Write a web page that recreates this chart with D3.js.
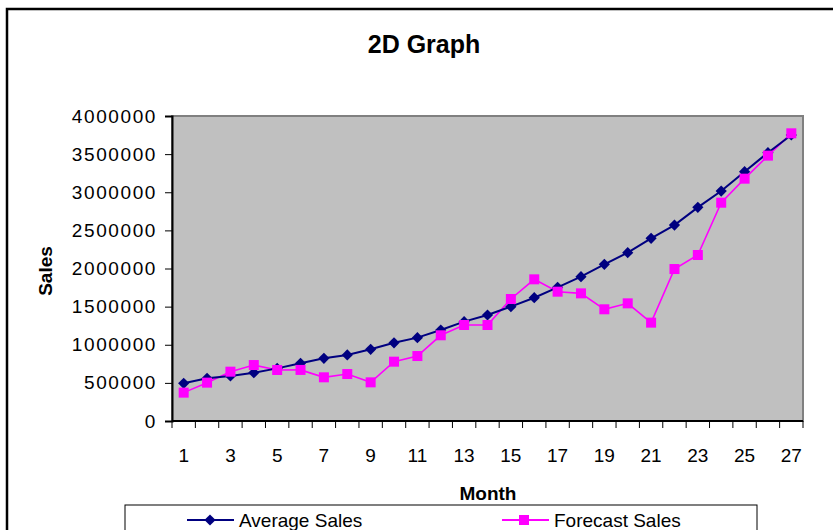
<!DOCTYPE html>
<head>
  <meta charset="utf-8">
  <title>2D Graph</title>
  <script src="https://d3js.org/d3.v7.min.js"></script>
  <style>
    body { margin: 0; background: #fff; }
    text { font-family: Arial, "Liberation Sans", sans-serif; fill: #000; }
  </style>
</head>
<body>
  <div id="root"></div>
  <script>
    // data
    var months = d3.range(1, 28);
    var averageSales = [494000, 560000, 590000, 633000, 690000, 757000, 822000, 866000, 940000,
      1025000, 1093000, 1193000, 1303000, 1390000, 1500000, 1617000, 1753000, 1893000, 2055000,
      2208000, 2396000, 2570000, 2802000, 3016000, 3270000, 3519000, 3751000];
    var forecastSales = [372000, 503000, 647000, 734000, 669000, 670000, 573000, 616000, 507000,
      778000, 852000, 1124000, 1259000, 1259000, 1600000, 1858000, 1696000, 1674000, 1465000,
      1543000, 1290000, 1993000, 2177000, 2863000, 3178000, 3480000, 3773000];
    var yTicks = [0, 500000, 1000000, 1500000, 2000000, 2500000, 3000000, 3500000, 4000000];
    var xLabels = months.filter(function(m) { return m % 2 == 1; });

    var W = 833, H = 530;
    var plot = {left: 172, right: 803, top: 116, bottom: 421};

    var svg = d3.select("#root").append("svg")
      .attr("width", W).attr("height", H);

    // outer chart frame (runs off the picture)
    svg.append("rect")
      .attr("x", 7).attr("y", 9).attr("width", 900).attr("height", 600)
      .attr("fill", "none").attr("stroke", "#000").attr("stroke-width", 2.5);

    // title
    svg.append("text")
      .attr("x", 424).attr("y", 53)
      .attr("text-anchor", "middle")
      .style("font-size", "25px").style("font-weight", "bold")
      .text("2D Graph");

    var x = d3.scaleBand().domain(months).range([plot.left, plot.right]).padding(0);
    var y = d3.scaleLinear().domain([0, 4000000]).range([plot.bottom, plot.top]);
    var cx = function(m) { return x(m) + x.bandwidth() / 2; };

    // plot area
    svg.append("rect")
      .attr("x", plot.left).attr("y", plot.top)
      .attr("width", plot.right - plot.left).attr("height", plot.bottom - plot.top)
      .attr("fill", "#c0c0c0").attr("stroke", "#808080").attr("stroke-width", 2);

    // y axis
    var yAxis = svg.append("g")
      .attr("transform", "translate(" + plot.left + ",0)")
      .call(d3.axisLeft(y).tickValues(yTicks).tickSize(7).tickPadding(8).tickFormat(d3.format("d")));
    yAxis.select(".domain").attr("stroke", "#000").attr("stroke-width", 2);
    yAxis.selectAll("text").style("font-size", "19px").style("font-family", "Arial, 'Liberation Sans', sans-serif")
      .style("letter-spacing", "1.6px")
      .attr("fill", "#000");

    // x axis: ticks between categories
    var xAxis = svg.append("g").attr("transform", "translate(0," + plot.bottom + ")");
    xAxis.append("line")
      .attr("x1", plot.left).attr("x2", plot.right)
      .attr("stroke", "#000").attr("stroke-width", 2);
    xAxis.selectAll("line.tick")
      .data(months.concat([28]))
      .enter().append("line")
      .attr("class", "tick")
      .attr("x1", function(m) { return m > 27 ? plot.right : x(m); })
      .attr("x2", function(m) { return m > 27 ? plot.right : x(m); })
      .attr("y1", 0).attr("y2", 7)
      .attr("stroke", "#000");
    xAxis.selectAll("text")
      .data(xLabels)
      .enter().append("text")
      .attr("x", cx).attr("y", 41)
      .attr("text-anchor", "middle")
      .style("font-size", "19px")
      .text(function(m) { return m; });

    // axis titles
    svg.append("text")
      .attr("x", 488).attr("y", 500)
      .attr("text-anchor", "middle")
      .style("font-size", "19px").style("font-weight", "bold")
      .text("Month");
    svg.append("text")
      .attr("transform", "translate(52,271) rotate(-90)")
      .attr("text-anchor", "middle")
      .style("font-size", "19px").style("font-weight", "bold")
      .text("Sales");

    var line = d3.line()
      .x(function(d, i) { return cx(months[i]); })
      .y(function(d) { return y(d); });

    var diamond = d3.symbol().type(d3.symbolDiamond2).size(80);

    // forecast series
    svg.append("path")
      .datum(forecastSales)
      .attr("d", line)
      .attr("fill", "none").attr("stroke", "#ff00ff").attr("stroke-width", 1.6);
    // average series
    svg.append("path")
      .datum(averageSales)
      .attr("d", line)
      .attr("fill", "none").attr("stroke", "#000080").attr("stroke-width", 2);

    svg.append("g").selectAll("path")
      .data(averageSales)
      .enter().append("path")
      .attr("d", diamond)
      .attr("transform", function(d, i) { return "translate(" + cx(months[i]) + "," + y(d) + ")"; })
      .attr("fill", "#000080");

    svg.append("g").selectAll("rect")
      .data(forecastSales)
      .enter().append("rect")
      .attr("x", function(d, i) { return cx(months[i]) - 5; })
      .attr("y", function(d) { return y(d) - 5; })
      .attr("width", 10).attr("height", 10)
      .attr("fill", "#ff00ff");

    // legend
    var legend = svg.append("g");
    legend.append("rect")
      .attr("x", 125).attr("y", 505).attr("width", 632).attr("height", 60)
      .attr("fill", "#fff").attr("stroke", "#000").attr("stroke-width", 1);
    legend.append("line")
      .attr("x1", 187).attr("x2", 234).attr("y1", 520).attr("y2", 520)
      .attr("stroke", "#000080").attr("stroke-width", 2);
    legend.append("path")
      .attr("d", diamond)
      .attr("transform", "translate(210,520)")
      .attr("fill", "#000080");
    legend.append("text")
      .attr("x", 239).attr("y", 527)
      .style("font-size", "19px")
      .text("Average Sales");
    legend.append("line")
      .attr("x1", 502).attr("x2", 549).attr("y1", 520).attr("y2", 520)
      .attr("stroke", "#ff00ff").attr("stroke-width", 2);
    legend.append("rect")
      .attr("x", 519).attr("y", 515).attr("width", 10).attr("height", 10)
      .attr("fill", "#ff00ff");
    legend.append("text")
      .attr("x", 554).attr("y", 527)
      .style("font-size", "19px")
      .text("Forecast Sales");
  </script>
</body>
